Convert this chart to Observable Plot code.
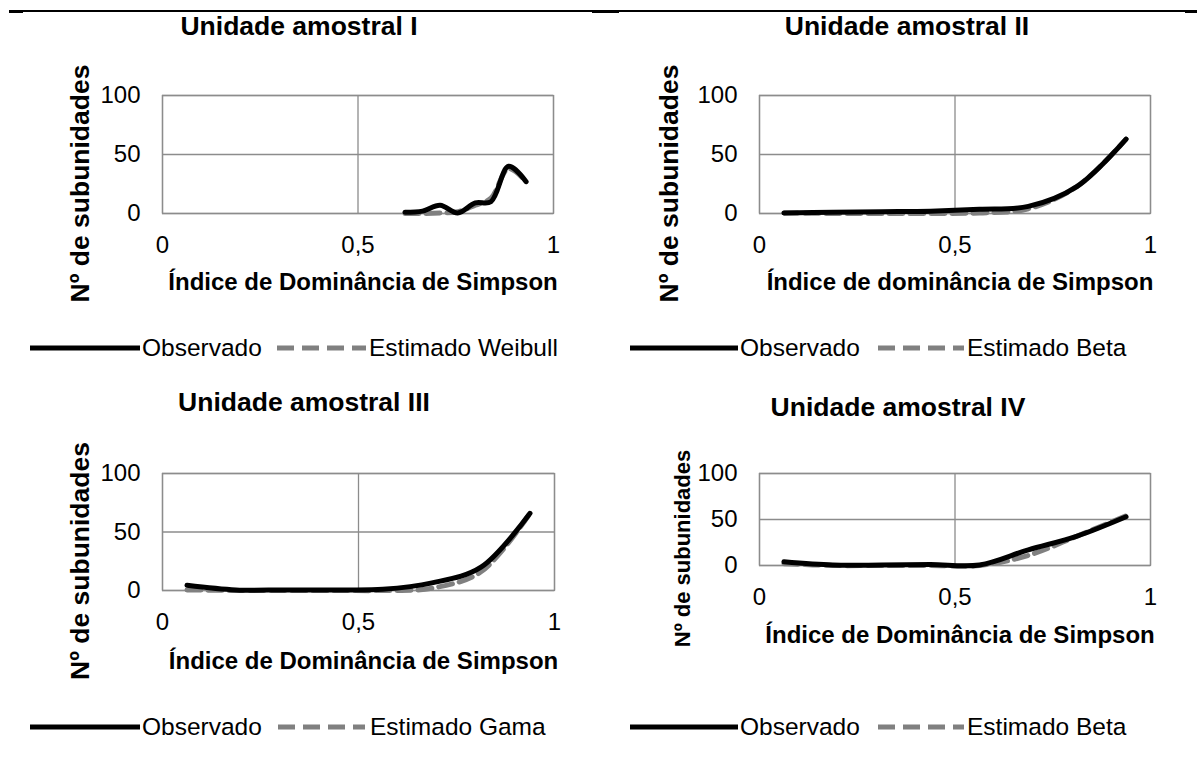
<!DOCTYPE html>
<html>
<head>
<meta charset="utf-8">
<script src="https://cdn.jsdelivr.net/npm/d3@7"></script>
<script src="https://cdn.jsdelivr.net/npm/@observablehq/plot@0.6"></script>
<style>
  body { margin: 0; background: #fff; font-family: "Liberation Sans", Arial, sans-serif; color: #000; }
  #page { position: relative; width: 1197px; height: 758px; overflow: hidden; background: #fff; }
  .abs { position: absolute; }
  .title { font-weight: bold; font-size: 26.5px; white-space: nowrap; transform: translate(-50%, -50%); line-height: 1; }
  .legtext { font-size: 24.5px; white-space: nowrap; transform: translateY(-50%); line-height: 1; }
  .rule { position: absolute; background: #000; }
</style>
</head>
<body>
<div id="page"></div>
<script>
// Class midpoints of the Simpson dominance index and number of subunits per class
const xUnitI = [0.62, 0.665, 0.71, 0.755, 0.80, 0.84, 0.885, 0.93];
const obsUnitI = [1, 2, 7, 0.5, 9, 10, 40, 27];
const estUnitI = [0, 0, 0.5, 1.5, 7, 13, 38, 27];

const xClasses = [0.0625, 0.1875, 0.3125, 0.4375, 0.5625, 0.6875, 0.8125, 0.9375];
const obsUnitII = [0.5, 1, 1.5, 2, 3.5, 6, 23, 63];
const estUnitII = [0.5, 0, 0, 0, 0.5, 4, 23, 63];
const obsUnitIII = [4.5, 0.5, 0.5, 0.5, 1, 6.5, 20, 66];
const estUnitIII = [0.5, 0, 0, 0, 0, 2, 16, 66];
const obsUnitIV = [4, 0.5, 0.5, 1, 0.5, 17, 32, 53];
const estUnitIV = [2, 0, 0, 0, 0, 11, 32, 54];

const xTicks = [0, 0.5, 1];
const yTicks = [0, 50, 100];
const titles = ["Unidade amostral I", "Unidade amostral II", "Unidade amostral III", "Unidade amostral IV"];
const xLabels = ["Índice de Dominância de Simpson", "Índice de dominância de Simpson",
                 "Índice de Dominância de Simpson", "Índice de Dominância de Simpson"];
const yLabel = "Nº de subunidades";
const obsName = "Observado";
const estNames = ["Estimado Weibull", "Estimado Beta", "Estimado Gama", "Estimado Beta"];

// Layout of each panel on the page (svg box, plot frame, title, axis labels and legend positions)
const panels = [
  {xs: xUnitI, obs: obsUnitI, est: estUnitI, box: [0, 30, 590, 300], frame: [162, 95, 553, 213],
   title: [299, 26], xlab: [5, 76], ylab: [-82, 29, 26.5], legend: {y: 348, s1: [30, 140], t1: 142, s2: [277, 366], t2: 369}},
  {xs: xClasses, obs: obsUnitII, est: estUnitII, box: [597, 30, 600, 300], frame: [759, 95, 1150, 213],
   title: [907, 26], xlab: [5, 76], ylab: [-90, 29, 26.5], legend: {y: 348, s1: [630, 738], t1: 740, s2: [878, 964], t2: 967}},
  {xs: xClasses, obs: obsUnitIII, est: estUnitIII, box: [0, 415, 590, 285], frame: [162, 473, 554, 590],
   title: [304, 402], xlab: [5, 78], ylab: [-82, 29, 26.5], legend: {y: 727, s1: [30, 140], t1: 142, s2: [278, 365], t2: 370}},
  {xs: xClasses, obs: obsUnitIV, est: estUnitIV, box: [597, 415, 600, 280], frame: [759, 473, 1150, 565],
   title: [898, 407], xlab: [5, 77], ylab: [-77, 29, 22], legend: {y: 727, s1: [630, 738], t1: 740, s2: [878, 964], t2: 967}}
];

const page = document.getElementById("page");
const fmt = d => String(d).replace(".", ",");
const GRID = "#8c8c8c";

function addRule(x, y, w, h) {
  const d = document.createElement("div");
  d.className = "rule";
  Object.assign(d.style, {left: x + "px", top: y + "px", width: w + "px", height: h + "px"});
  page.appendChild(d);
}
// horizontal rule across the top of the figure
addRule(9, 10, 1188, 1.5);
addRule(9, 9.5, 14, 3);
addRule(592, 9.5, 27, 3);
addRule(1185, 9.5, 12, 3);

function swatch(x0, x1, y, dashed) {
  const ns = "http://www.w3.org/2000/svg";
  const svg = document.createElementNS(ns, "svg");
  const w = x1 - x0;
  svg.setAttribute("width", w);
  svg.setAttribute("height", 10);
  svg.style.position = "absolute";
  svg.style.left = x0 + "px";
  svg.style.top = (y - 5) + "px";
  const ln = document.createElementNS(ns, "line");
  ln.setAttribute("x1", 0); ln.setAttribute("x2", w);
  ln.setAttribute("y1", 5); ln.setAttribute("y2", 5);
  ln.setAttribute("stroke", dashed ? "#808080" : "#000");
  ln.setAttribute("stroke-width", 5);
  if (dashed) ln.setAttribute("stroke-dasharray", "17 8");
  svg.appendChild(ln);
  page.appendChild(svg);
}

function label(text, cls, x, y) {
  const d = document.createElement("div");
  d.className = "abs " + cls;
  d.textContent = text;
  d.style.left = x + "px";
  d.style.top = y + "px";
  page.appendChild(d);
}

panels.forEach((p, k) => {
  const [bx, by, bw, bh] = p.box;
  const [fl, ft, fr, fb] = p.frame;
  const obsData = p.xs.map((x, i) => ({x, y: p.obs[i]}));
  const estData = p.xs.map((x, i) => ({x, y: p.est[i]}));

  const chart = Plot.plot({
    width: bw,
    height: bh,
    marginLeft: fl - bx,
    marginRight: bx + bw - fr,
    marginTop: ft - by,
    marginBottom: by + bh - fb,
    style: {fontFamily: "'Liberation Sans', Arial, sans-serif", fontSize: "24px", color: "#000", background: "transparent"},
    x: {domain: [0, 1], ticks: xTicks, tickFormat: fmt, tickSize: 0, tickPadding: 22, label: null},
    y: {domain: [0, 100], ticks: yTicks, tickSize: 0, tickPadding: 22, label: null},
    marks: [
      Plot.gridX(xTicks, {stroke: GRID, strokeOpacity: 1, strokeWidth: 1.3}),
      Plot.gridY(yTicks, {stroke: GRID, strokeOpacity: 1, strokeWidth: 1.3}),
      Plot.frame({stroke: GRID, strokeWidth: 1.3}),
      Plot.line(estData, {x: "x", y: "y", curve: "catmull-rom", stroke: "#808080", strokeWidth: 5, strokeDasharray: "14 7"}),
      Plot.line(obsData, {x: "x", y: "y", curve: "catmull-rom", stroke: "#000", strokeWidth: 5, strokeLinecap: "round", strokeLinejoin: "round"}),
      Plot.text([xLabels[k]], {text: d => d, frameAnchor: "bottom", textAnchor: "middle", dx: p.xlab[0], dy: p.xlab[1],
        fontWeight: "bold", fontSize: 24, fill: "#000"}),
      Plot.text([yLabel], {text: d => d, frameAnchor: "left", textAnchor: "middle", rotate: -90, dx: p.ylab[0], dy: p.ylab[1],
        fontWeight: "bold", fontSize: p.ylab[2], fill: "#000"})
    ]
  });
  chart.style.position = "absolute";
  chart.style.left = bx + "px";
  chart.style.top = by + "px";
  page.appendChild(chart);

  label(titles[k], "title", p.title[0], p.title[1]);
  const L = p.legend;
  swatch(L.s1[0], L.s1[1], L.y, false);
  label(obsName, "legtext", L.t1, L.y);
  swatch(L.s2[0], L.s2[1], L.y, true);
  label(estNames[k], "legtext", L.t2, L.y);
});
</script>
</body>
</html>
